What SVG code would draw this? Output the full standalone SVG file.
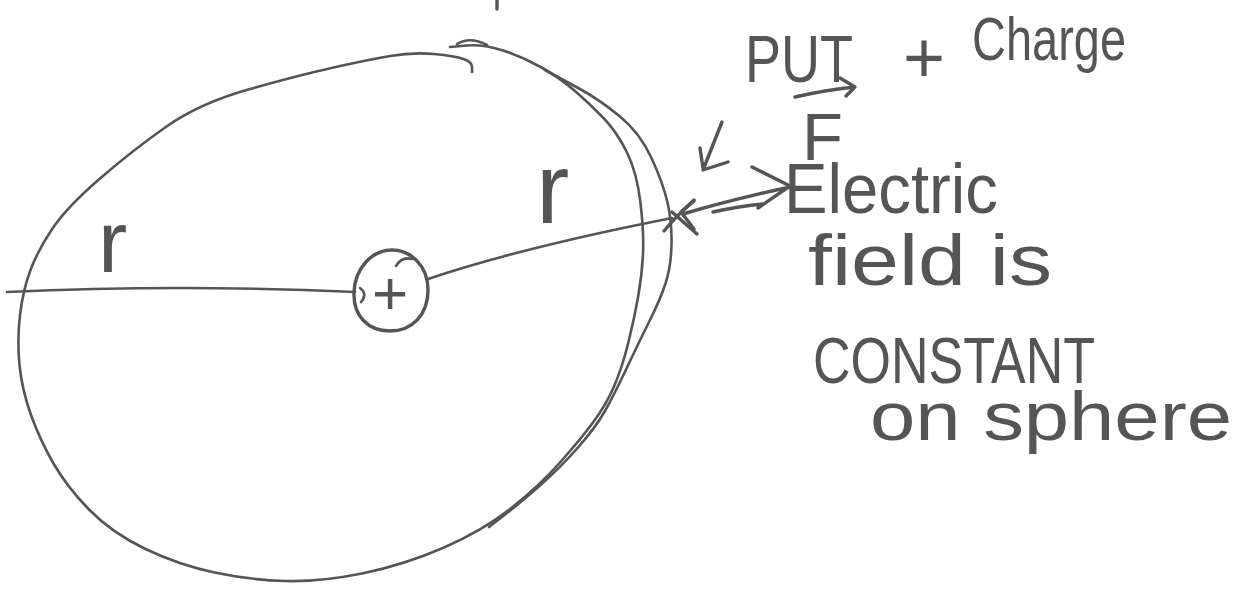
<svg xmlns="http://www.w3.org/2000/svg" width="1243" height="590" viewBox="0 0 1243 590">
<style>
.ink{fill:none;stroke:#555;stroke-width:2.6;stroke-linecap:round;stroke-linejoin:round}
.ink2{fill:none;stroke:#555;stroke-width:3.4;stroke-linecap:round;stroke-linejoin:round}
.hw{font-family:"Liberation Sans",Arial,sans-serif;fill:#555}
</style>
<rect width="1243" height="590" fill="#fff"/>
<g id="sphere">
<path class="ink" d="M450,47 L466.5,45.5 Q483,44 503,50.5 Q523,57 541.5,67.5 Q560,78 575,91 Q590,104 603.5,118 Q617,132 627,152.5 Q637,173 640.5,203 Q644,233 643,254 Q642,275 638,297.5 Q634,320 628,344 Q622,368 614,386.5 Q606,405 593,422.5 Q580,440 560,462.5 Q540,485 512,507.5 Q484,530 444,547.5 Q404,565 362,573.5 Q320,582 285,581 Q250,580 214.5,572.5 Q179,565 145.5,549 Q112,533 89.5,510 Q67,487 53.5,463.5 Q40,440 31,415 Q22,390 19.5,365 Q17,340 20,315 Q23,290 30.5,270 Q38,250 52.5,228.5 Q67,207 100,178.5 Q133,150 166.5,126.5 Q200,103 250,89 Q300,75 333.5,67.5 Q367,60 390,56 Q413,52 434,54 Q455,56 463.5,59 Q472,62 472,67 L472,72"/>
<path class="ink" d="M545,70 L580,89 Q600,100 620,116.5 Q640,133 651.5,158 Q663,183 667.5,202.5 Q672,222 671.5,244.5 Q671,267 665.5,283.5 Q660,300 650,320 Q640,340 627,367.5 Q614,395 605,411 Q596,427 578,447.5 Q560,468 540,485.5 Q520,503 504.5,515 L489,527"/>
<path class="ink" d="M457,44 Q470,36 487,45"/>
<path class="ink2" d="M497,0 L497,9"/>
</g>
<g id="point-charge">
<path class="ink2" d="M392,250 C410,250 428,265 428,290 C428,315 412,331 390,331 C368,331 353,316 354,292 C355,268 372,250 392,250 Z"/>
<path class="ink" d="M396,266 Q402,256 412,259"/>
<path class="ink" d="M360,288 Q368,294 361,302"/>
<text class="hw" x="390" y="314" font-size="62" text-anchor="middle">+</text>
</g>
<g id="connectors">
<path class="ink" d="M7,292 Q180,284 355,292"/>
<path class="ink" d="M428,279 Q520,248 672,218"/>
<path class="ink2" d="M664,231 Q676,216 694,201 M672,212 L697,234"/>
<path class="ink2" d="M683,214 Q730,200 790,187 M713,212 Q740,206 763,204 M752,167 L790,186 L758,208 M694,200 L681,212 L694,229"/>
<path class="ink2" d="M795,97 Q825,90 855,87 M840,78 L855,87 L846,96"/>
<path class="ink2" d="M722,122 L703,170 L728,162 M700,148 L703,168"/>
</g>
<g id="radius-labels">
<text class="hw" x="98" y="272" font-size="88">r</text>
<text class="hw" x="536" y="223" font-size="100">r</text>
</g>
<g id="annotation">
<text class="hw"><tspan x="745" y="82" font-size="66" textLength="108" lengthAdjust="spacingAndGlyphs">PUT</tspan><tspan x="903" y="82" font-size="72">+</tspan><tspan x="972" y="60" font-size="62" textLength="154" lengthAdjust="spacingAndGlyphs">Charge</tspan></text>
<text class="hw" x="802" y="160" font-size="67">F</text>
<text class="hw" x="784" y="213" font-size="70" textLength="214" lengthAdjust="spacingAndGlyphs">Electric</text>
<text class="hw" x="808" y="285" font-size="72" textLength="244" lengthAdjust="spacingAndGlyphs">field is</text>
<text class="hw" x="813" y="383" font-size="64" textLength="282" lengthAdjust="spacingAndGlyphs">CONSTANT</text>
<text class="hw" x="870" y="440" font-size="68" textLength="362" lengthAdjust="spacingAndGlyphs">on sphere</text>
</g>
</svg>
